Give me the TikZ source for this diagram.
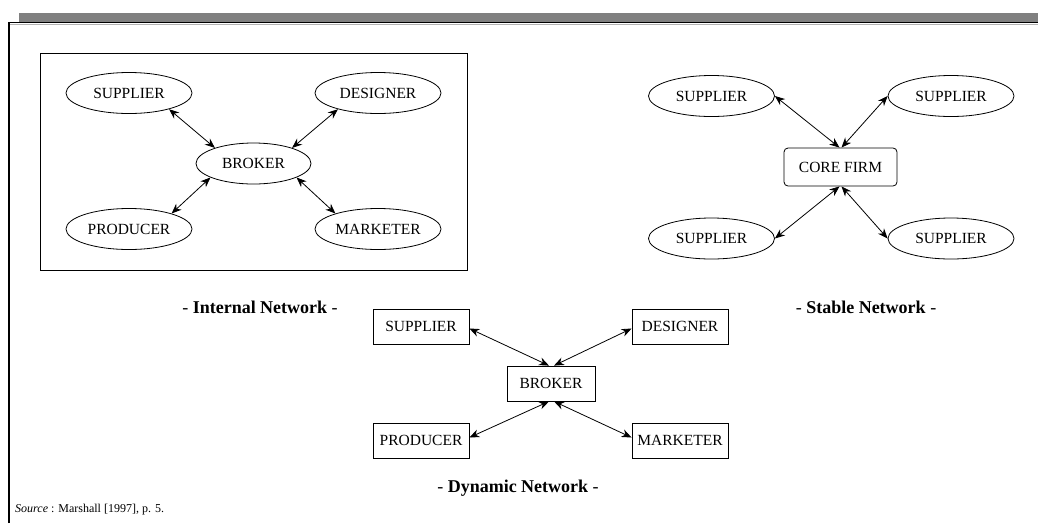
\documentclass[tikz,border=0pt]{standalone}
\usepackage{fontspec}
\setmainfont{Liberation Serif}
\usetikzlibrary{arrows.meta,shapes.geometric}
\begin{document}
\begin{tikzpicture}[x=1pt,y=-1pt,
  every node/.style={font=\fontsize{15.5}{18}\selectfont, inner sep=0pt},
  ell/.style={draw, ellipse, minimum width=126pt, minimum height=41pt, line width=0.8pt},
  ellb/.style={draw, ellipse, minimum width=115pt, minimum height=41pt, line width=0.8pt},
  core/.style={draw, rounded corners=4pt, minimum width=113pt, minimum height=38pt, line width=0.8pt},
  box/.style={draw, minimum width=96pt, minimum height=35pt, line width=0.8pt},
  boxb/.style={draw, minimum width=88pt, minimum height=35pt, line width=0.8pt},
  link/.style={{Stealth[length=10pt,width=8pt]}-{Stealth[length=10pt,width=8pt]}, line width=0.8pt},
  caption/.style={font=\fontsize{18}{21}\selectfont}
]
\useasboundingbox (0,0) rectangle (1038,523);
% frame
\fill[black!50] (19,13) rectangle (1038,22);
\draw[black!30, line width=0.8pt] (10,24) -- (1038,24);
\draw[line width=1.2pt] (9,523) -- (9,22.5) -- (1038,22.5);

% Internal network
\draw[line width=0.9pt] (40,53) rectangle (467,270);
\node[ell] (isup) at (129,93) {SUPPLIER};
\node[ell] (ides) at (378,93) {DESIGNER};
\node[ellb] (ibrk) at (253.5,163.5) {BROKER};
\node[ell] (ipro) at (129,229) {PRODUCER};
\node[ell] (imar) at (378,229) {MARKETER};
\draw[link] (isup.-22) -- (ibrk.158);
\draw[link] (ides.-158) -- (ibrk.22);
\draw[link] (ipro.20) -- (ibrk.198);
\draw[link] (imar.160) -- (ibrk.-18);

% Stable network
\node[ell] (ssa) at (711.5,96) {SUPPLIER};
\node[ell] (ssb) at (951,96) {SUPPLIER};
\node[core] (scor) at (840.5,167) {CORE FIRM};
\node[ell] (ssc) at (711.5,238.5) {SUPPLIER};
\node[ell] (ssd) at (951,238.5) {SUPPLIER};
\draw[link] (ssa.east) -- ([xshift=-1pt]scor.north);
\draw[link] (ssb.west) -- ([xshift=1pt]scor.north);
\draw[link] (ssc.east) -- ([xshift=-1pt]scor.south);
\draw[link] (ssd.west) -- ([xshift=1pt]scor.south);

% Dynamic network
\node[box] (dsup) at (421,326.5) {SUPPLIER};
\node[box] (ddes) at (680,326.5) {DESIGNER};
\node[boxb] (dbrk) at (551,383.5) {BROKER};
\node[box] (dpro) at (421,440.5) {PRODUCER};
\node[box] (dmar) at (680,440.5) {MARKETER};
\draw[link] ([yshift=-2pt]dsup.east) -- ([xshift=-2pt]dbrk.north);
\draw[link] ([yshift=-2pt]ddes.west) -- ([xshift=3pt]dbrk.north);
\draw[link] ([yshift=3pt]dpro.east) -- ([xshift=-2pt]dbrk.south);
\draw[link] ([yshift=3pt]dmar.west) -- ([xshift=3pt]dbrk.south);

% captions
\node[caption] (lint) at (260,307) {- \textbf{Internal Network} -};
\node[caption] (lsta) at (866,307) {- \textbf{Stable Network} -};
\node[caption] (ldyn) at (518,488) {- \textbf{Dynamic Network} -};
\node[anchor=base west, font=\fontsize{12}{14}\selectfont] (src) at (15,512) {\textit{Source} : Marshall [1997], p. 5.};
\end{tikzpicture}
\end{document}
